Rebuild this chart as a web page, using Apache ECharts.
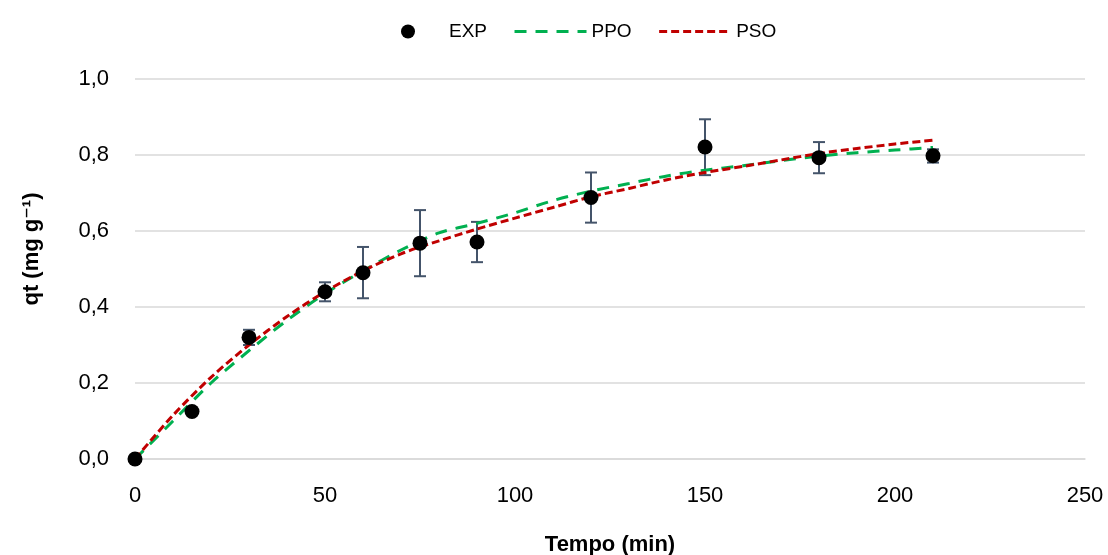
<!DOCTYPE html>
<html>
<head>
<meta charset="utf-8">
<script src="https://cdn.jsdelivr.net/npm/echarts@6/dist/echarts.min.js"></script>
<style>
  html, body { margin: 0; padding: 0; background: #fff; }
  #chart { width: 1108px; height: 555px; }
</style>
</head>
<body>
<div id="chart"></div>
<script>
// experimental points: time (min), qt and error bar limits
var expTime = [0, 15, 30, 50, 60, 75, 90, 120, 150, 180, 210];
var expQt   = [0, 0.125, 0.32, 0.44, 0.49, 0.568, 0.571, 0.688, 0.821, 0.793, 0.798];
var expLow  = [0, 0.125, 0.30, 0.415, 0.423, 0.481, 0.518, 0.622, 0.747, 0.752, 0.78];
var expHigh = [0, 0.125, 0.34, 0.465, 0.558, 0.655, 0.624, 0.754, 0.894, 0.834, 0.815];

// fitted curves
var fitTime = [0, 10, 20, 30, 40, 50, 60, 70, 80, 90, 100, 110, 120, 130, 140, 150, 160, 170, 180, 190, 200, 210];
var ppoQt = [0, 0.10, 0.20, 0.285, 0.365, 0.435, 0.495, 0.55, 0.595, 0.62, 0.648, 0.68, 0.705, 0.725, 0.745, 0.76, 0.772, 0.785, 0.797, 0.806, 0.813, 0.82];
var psoQt = [0, 0.115, 0.215, 0.30, 0.375, 0.44, 0.495, 0.54, 0.574, 0.605, 0.634, 0.662, 0.69, 0.712, 0.735, 0.754, 0.77, 0.787, 0.804, 0.817, 0.829, 0.839];

var xTicks = [0, 50, 100, 150, 200, 250];
var yTicks = [0, 0.2, 0.4, 0.6, 0.8, 1.0];

var font = "'Liberation Sans', 'DejaVu Sans', sans-serif";

function pairs(xs, ys) {
  var out = [];
  for (var i = 0; i < xs.length; i++) out.push([xs[i], ys[i]]);
  return out;
}

var errData = [];
for (var i = 0; i < expTime.length; i++) {
  if (expHigh[i] - expLow[i] > 0.001) errData.push([expTime[i], expLow[i], expHigh[i]]);
}

var chart = echarts.init(document.getElementById('chart'));
var option = {
  animation: false,
  backgroundColor: '#fff',
  textStyle: { fontFamily: font },
  legend: {
    top: 17,
    left: 396,
    data: [
      { name: 'EXP' },
      { name: 'PPO', itemStyle: { opacity: 0 } },
      { name: 'PSO', itemStyle: { opacity: 0 } }
    ],
    itemWidth: 72,
    itemHeight: 14,
    itemGap: 26,
    lineStyle: { width: 3 },
    textStyle: { fontSize: 19, color: '#000', fontFamily: font }
  },
  grid: { left: 135, right: 23, top: 79, bottom: 96, outerBoundsMode: 'none', containLabel: false },
  xAxis: {
    type: 'value',
    min: xTicks[0],
    max: xTicks[xTicks.length - 1],
    interval: 50,
    name: 'Tempo (min)',
    nameLocation: 'middle',
    nameGap: 75,
    nameTextStyle: { fontSize: 22, fontWeight: 'bold', color: '#000', fontFamily: font },
    axisLine: { show: true, lineStyle: { color: '#d9d9d9', width: 1.5 } },
    axisTick: { show: false },
    axisLabel: { fontSize: 22, color: '#000', margin: 26, fontFamily: font },
    splitLine: { show: false }
  },
  yAxis: {
    type: 'value',
    min: yTicks[0],
    max: yTicks[yTicks.length - 1],
    interval: 0.2,
    axisLine: { show: false },
    axisTick: { show: false },
    axisLabel: {
      fontSize: 22, color: '#000', margin: 26, fontFamily: font,
      formatter: function (v) { return v.toFixed(1).replace('.', ','); }
    },
    splitLine: { show: true, lineStyle: { color: '#d9d9d9', width: 1.5 } }
  },
  graphic: [{
    type: 'text',
    x: 32,
    y: 249,
    rotation: Math.PI / 2,
    style: {
      text: 'qt (mg g\u207B\u00B9)',
      font: 'bold 22px ' + font,
      fill: '#000',
      align: 'center',
      verticalAlign: 'middle'
    }
  }],
  series: [
    {
      name: 'errors',
      type: 'custom',
      z: 3,
      data: errData,
      renderItem: function (params, api) {
        var x = api.value(0);
        var lo = api.coord([x, api.value(1)]);
        var hi = api.coord([x, api.value(2)]);
        var cap = 6;
        var st = { stroke: '#44546a', lineWidth: 2 };
        return {
          type: 'group',
          children: [
            { type: 'line', shape: { x1: lo[0], y1: lo[1], x2: hi[0], y2: hi[1] }, style: st },
            { type: 'line', shape: { x1: lo[0] - cap, y1: lo[1], x2: lo[0] + cap, y2: lo[1] }, style: st },
            { type: 'line', shape: { x1: hi[0] - cap, y1: hi[1], x2: hi[0] + cap, y2: hi[1] }, style: st }
          ]
        };
      }
    },
    {
      name: 'PPO',
      type: 'line',
      z: 4,
      data: pairs(fitTime, ppoQt),
      smooth: 0.3,
      showSymbol: false,
      symbol: 'none',
      color: '#00b050',
      lineStyle: { color: '#00b050', width: 3, type: [12, 9] }
    },
    {
      name: 'PSO',
      type: 'line',
      z: 5,
      data: pairs(fitTime, psoQt),
      smooth: 0.3,
      showSymbol: false,
      symbol: 'none',
      color: '#c00000',
      lineStyle: { color: '#c00000', width: 3, type: [8, 4] }
    },
    {
      name: 'EXP',
      type: 'scatter',
      z: 6,
      data: pairs(expTime, expQt),
      symbol: 'circle',
      symbolSize: 15,
      itemStyle: { color: '#000', opacity: 1 }
    }
  ]
};
chart.setOption(option);
</script>
</body>
</html>
